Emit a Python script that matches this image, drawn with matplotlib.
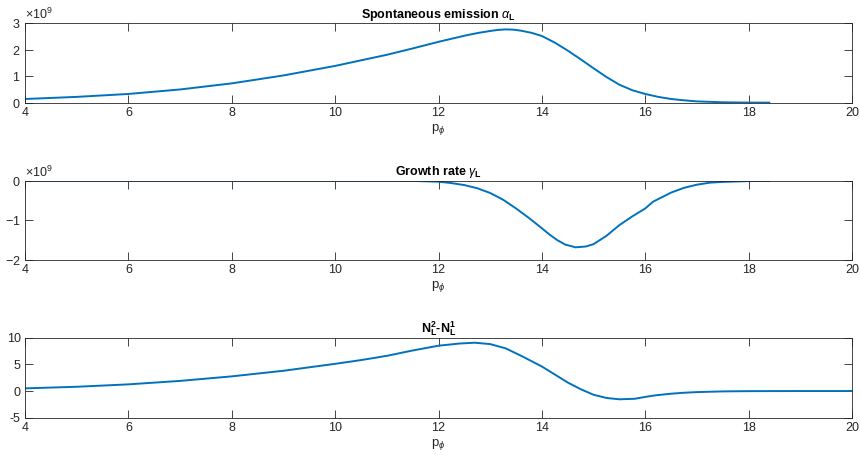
import matplotlib
matplotlib.use("Agg")
import matplotlib.pyplot as plt
from matplotlib.ticker import ScalarFormatter

plt.rcParams['font.family'] = ['Liberation Sans', 'DejaVu Sans']
plt.rcParams['mathtext.fontset'] = 'custom'
plt.rcParams['mathtext.rm'] = 'Liberation Sans'
plt.rcParams['mathtext.it'] = 'Liberation Sans:italic'
plt.rcParams['mathtext.bf'] = 'Liberation Sans:bold'
plt.rcParams['axes.unicode_minus'] = False

# Spontaneous emission alpha_L (units of 1e9)
x_alpha = [4.0, 5.0, 6.0, 7.0, 8.0, 9.0, 10.0, 10.5, 11.0, 11.5, 12.0, 12.5,
           12.75, 13.0, 13.15, 13.3, 13.45, 13.6, 13.8, 14.0, 14.25, 14.5, 14.75,
           15.0, 15.25, 15.5, 15.75, 16.0, 16.25, 16.5, 16.75, 17.0, 17.5, 18.0,
           18.4]
alpha = [0.14, 0.22, 0.33, 0.50, 0.73, 1.03, 1.39, 1.60, 1.81, 2.05, 2.30, 2.53,
         2.63, 2.71, 2.75, 2.77, 2.76, 2.72, 2.64, 2.52, 2.27, 1.97, 1.64,
         1.30, 0.97, 0.68, 0.47, 0.33, 0.22, 0.14, 0.09, 0.05, 0.015, 0.004,
         0.002]

# Growth rate gamma_L (units of 1e9)
x_gamma = [4.0, 6.0, 8.0, 10.0, 11.0, 11.5, 12.0, 12.25, 12.5, 12.75, 13.0,
           13.25, 13.5, 13.75, 14.0, 14.15, 14.3, 14.45, 14.65, 14.85, 15.0,
           15.25, 15.5, 15.75, 16.0, 16.15, 16.5, 16.75, 17.0, 17.25, 17.5,
           18.0, 18.4]
gamma = [0.0, 0.0, 0.0, -0.001, -0.002, -0.005, -0.025, -0.06, -0.11, -0.19,
         -0.31, -0.48, -0.70, -0.94, -1.20, -1.36, -1.50, -1.61, -1.68, -1.66,
         -1.60, -1.39, -1.12, -0.90, -0.70, -0.53, -0.30, -0.18, -0.10, -0.05,
         -0.03, -0.01, -0.005]

# Population difference N_L^2 - N_L^1
x_n = [4.0, 5.0, 6.0, 7.0, 8.0, 9.0, 10.0, 10.5, 11.0, 11.5, 12.0, 12.4, 12.7,
       13.0, 13.3, 13.6, 13.8, 14.0, 14.25, 14.5, 14.75, 15.0, 15.25, 15.5,
       15.8, 16.0, 16.2, 16.5, 16.75, 17.0, 17.5, 18.0, 19.0, 20.0]
n_diff = [0.5, 0.8, 1.25, 1.9, 2.75, 3.8, 5.1, 5.8, 6.6, 7.6, 8.5, 8.9, 9.06,
          8.8, 8.0, 6.6, 5.6, 4.6, 3.1, 1.6, 0.35, -0.7, -1.3, -1.55, -1.45,
          -1.1, -0.8, -0.5, -0.32, -0.2, -0.07, -0.02, 0.0, 0.0]

x_ticks = [4, 6, 8, 10, 12, 14, 16, 18, 20]

titles = [r'Spontaneous emission $\alpha_\mathbf{L}$',
          r'Growth rate $\gamma_\mathbf{L}$',
          r'$\mathbf{N}_\mathbf{L}^\mathbf{2}$-$\mathbf{N}_\mathbf{L}^\mathbf{1}$']
y_limits = [(0, 3), (-2, 0), (-5, 10)]
y_ticks = [[0, 1, 2, 3], [-2, -1, 0], [-5, 0, 5, 10]]
scales = [1e9, 1e9, 1.0]
series = [(x_alpha, alpha), (x_gamma, gamma), (x_n, n_diff)]

W, H = 860, 457
fig = plt.figure(figsize=(W / 100, H / 100), dpi=100)
# axes boxes in pixel units: (left, top, right, bottom)
boxes = [(25, 23.3, 852, 102.7), (25, 180.7, 852, 260), (25, 337.7, 852, 417.7)]

ink = '#262626'
line_color = '#0072BD'

for i, (l, t, r, b) in enumerate(boxes):
    ax = fig.add_axes([l / W, 1 - b / H, (r - l) / W, (b - t) / H])
    xs, ys = series[i]
    ax.plot(xs, [v * scales[i] for v in ys], color=line_color, lw=1.4)
    ax.set_xlim(4, 20)
    lo, hi = y_limits[i]
    ax.set_ylim(lo * scales[i], hi * scales[i])
    ax.set_xticks(x_ticks)
    ax.set_yticks([v * scales[i] for v in y_ticks[i]])
    if scales[i] != 1.0:
        fmt = ScalarFormatter(useMathText=True)
        fmt.set_powerlimits((0, 0))
        ax.yaxis.set_major_formatter(fmt)
        ax.yaxis.get_offset_text().set_fontsize(9)
        ax.yaxis.get_offset_text().set_color(ink)
    ax.tick_params(direction='in', length=5.5, width=0.6, colors=ink,
                   labelsize=9, top=True, right=True, pad=3)
    for sp in ax.spines.values():
        sp.set_color(ink)
        sp.set_linewidth(0.6)
    ax.set_title(titles[i], fontsize=9, fontweight='bold', pad=4, color='black')
    ax.set_xlabel(r'p$_\phi$', fontsize=9.5, color=ink, labelpad=2)

fig.savefig('out.png', dpi=100)
